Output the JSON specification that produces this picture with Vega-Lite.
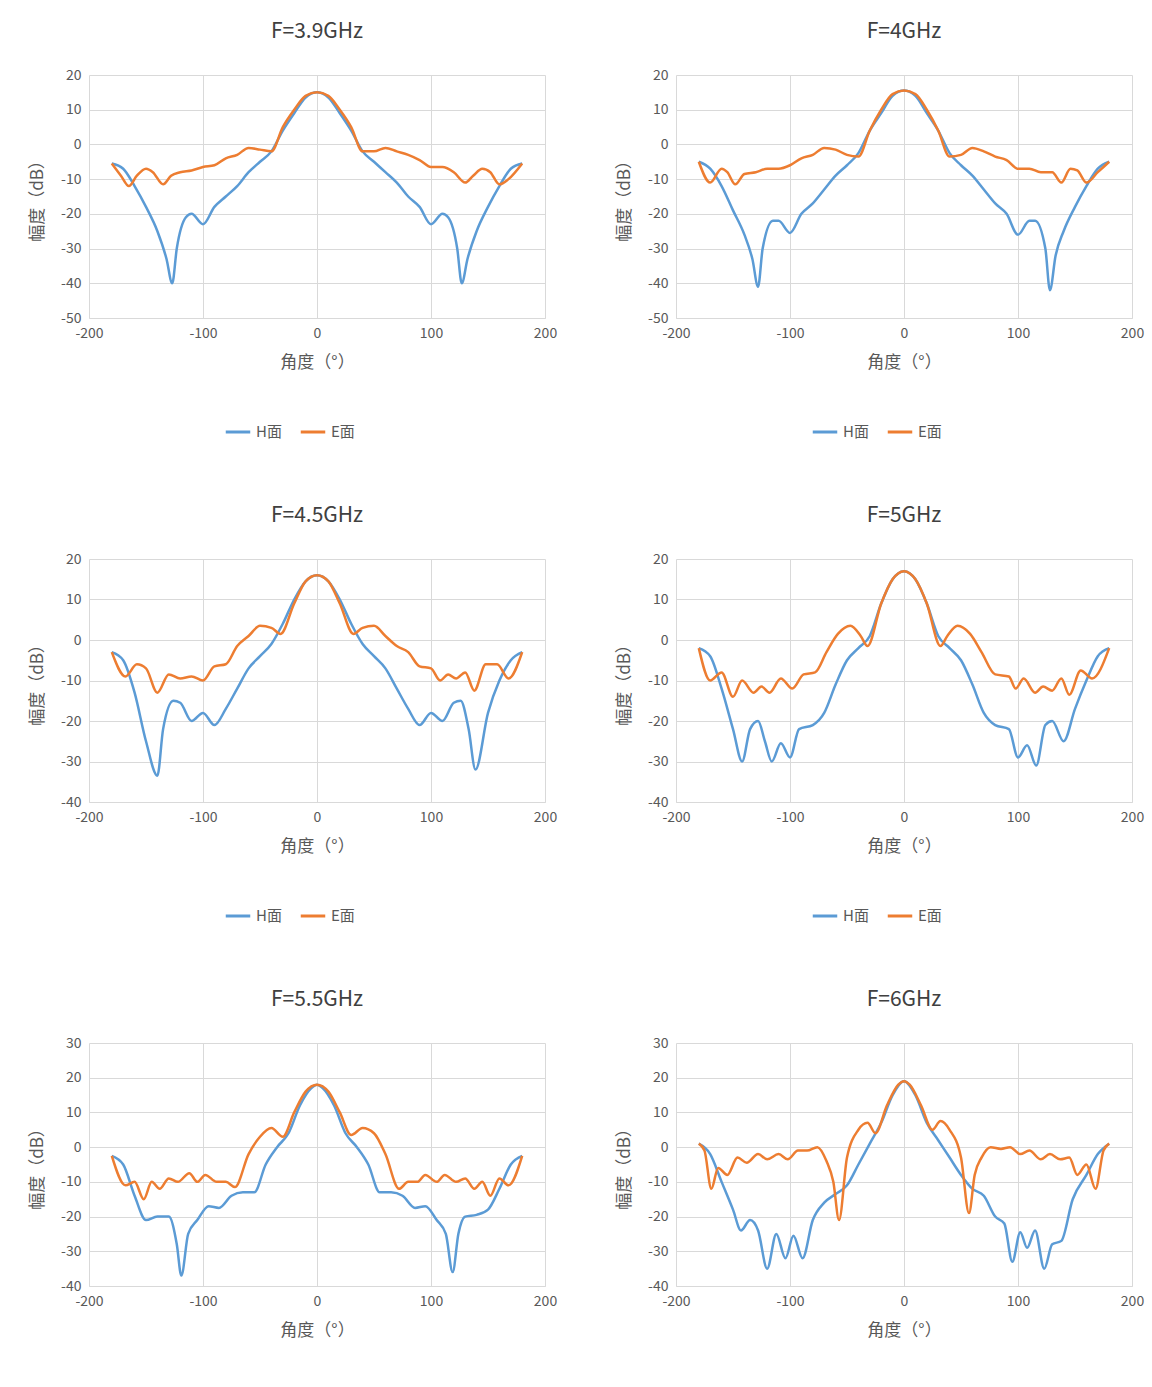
{
"$schema":"https://vega.github.io/schema/vega-lite/v6.json",
"background":"white",
"padding":{"left":28,"top":21,"right":10,"bottom":5},
"config":{"view":{"stroke":null},"font":"Noto Sans CJK SC",
"axis":{"gridColor":"#d9d9d9","domainColor":"#d9d9d9","tickColor":"#d9d9d9","ticks":false,"labelColor":"#595959","labelFontSize":14,"titleColor":"#595959","titleFontSize":17,"titleFontWeight":"normal","labelPadding":8,"labelFlush":false,"labelExpr":"replace(datum.label,'−','-')"},
"title":{"fontSize":21,"fontWeight":"normal","color":"#404040","offset":26},
"legend":{"orient":"none","legendX":135,"legendY":343,"direction":"horizontal","title":null,"labelFontSize":15,"labelColor":"#595959","symbolType":"stroke","symbolSize":600,"symbolStrokeWidth":3,"columnPadding":12}},
"data":{"values":[
{"f":"3.9","s":"H面","a":-180,"v":-5.5},{"f":"3.9","s":"H面","a":-170,"v":-7},{"f":"3.9","s":"H面","a":-160,"v":-12},{"f":"3.9","s":"H面","a":-150,"v":-18},{"f":"3.9","s":"H面","a":-140,"v":-25},{"f":"3.9","s":"H面","a":-132,"v":-33},{"f":"3.9","s":"H面","a":-127,"v":-40},{"f":"3.9","s":"H面","a":-123,"v":-30},{"f":"3.9","s":"H面","a":-115,"v":-21},{"f":"3.9","s":"H面","a":-110,"v":-20},{"f":"3.9","s":"H面","a":-100,"v":-23},{"f":"3.9","s":"H面","a":-90,"v":-18},{"f":"3.9","s":"H面","a":-80,"v":-15},{"f":"3.9","s":"H面","a":-70,"v":-12},{"f":"3.9","s":"H面","a":-60,"v":-8},{"f":"3.9","s":"H面","a":-50,"v":-5},{"f":"3.9","s":"H面","a":-40,"v":-2},{"f":"3.9","s":"H面","a":-30,"v":4},{"f":"3.9","s":"H面","a":-20,"v":9},{"f":"3.9","s":"H面","a":-10,"v":13.5},{"f":"3.9","s":"H面","a":0,"v":15},{"f":"3.9","s":"H面","a":10,"v":13.5},{"f":"3.9","s":"H面","a":20,"v":9},{"f":"3.9","s":"H面","a":30,"v":4},{"f":"3.9","s":"H面","a":40,"v":-2},{"f":"3.9","s":"H面","a":50,"v":-5},{"f":"3.9","s":"H面","a":60,"v":-8},{"f":"3.9","s":"H面","a":70,"v":-11},{"f":"3.9","s":"H面","a":80,"v":-15},{"f":"3.9","s":"H面","a":90,"v":-18},{"f":"3.9","s":"H面","a":100,"v":-23},{"f":"3.9","s":"H面","a":110,"v":-20},{"f":"3.9","s":"H面","a":115,"v":-21},{"f":"3.9","s":"H面","a":123,"v":-30},{"f":"3.9","s":"H面","a":127,"v":-40},{"f":"3.9","s":"H面","a":132,"v":-33},{"f":"3.9","s":"H面","a":140,"v":-25},{"f":"3.9","s":"H面","a":150,"v":-18},{"f":"3.9","s":"H面","a":160,"v":-12},{"f":"3.9","s":"H面","a":170,"v":-7},{"f":"3.9","s":"H面","a":180,"v":-5.5},
{"f":"3.9","s":"E面","a":-180,"v":-5.5},{"f":"3.9","s":"E面","a":-172,"v":-9},{"f":"3.9","s":"E面","a":-165,"v":-12},{"f":"3.9","s":"E面","a":-158,"v":-9},{"f":"3.9","s":"E面","a":-150,"v":-7},{"f":"3.9","s":"E面","a":-144,"v":-8},{"f":"3.9","s":"E面","a":-135,"v":-11.5},{"f":"3.9","s":"E面","a":-128,"v":-9},{"f":"3.9","s":"E面","a":-120,"v":-8},{"f":"3.9","s":"E面","a":-110,"v":-7.5},{"f":"3.9","s":"E面","a":-100,"v":-6.5},{"f":"3.9","s":"E面","a":-90,"v":-6},{"f":"3.9","s":"E面","a":-80,"v":-4},{"f":"3.9","s":"E面","a":-70,"v":-3},{"f":"3.9","s":"E面","a":-60,"v":-1},{"f":"3.9","s":"E面","a":-50,"v":-1.5},{"f":"3.9","s":"E面","a":-40,"v":-2},{"f":"3.9","s":"E面","a":-30,"v":5},{"f":"3.9","s":"E面","a":-20,"v":10},{"f":"3.9","s":"E面","a":-10,"v":14},{"f":"3.9","s":"E面","a":0,"v":15},{"f":"3.9","s":"E面","a":10,"v":14},{"f":"3.9","s":"E面","a":20,"v":10},{"f":"3.9","s":"E面","a":30,"v":5},{"f":"3.9","s":"E面","a":40,"v":-2},{"f":"3.9","s":"E面","a":50,"v":-2},{"f":"3.9","s":"E面","a":60,"v":-1},{"f":"3.9","s":"E面","a":70,"v":-2},{"f":"3.9","s":"E面","a":80,"v":-3},{"f":"3.9","s":"E面","a":90,"v":-4.5},{"f":"3.9","s":"E面","a":100,"v":-6.5},{"f":"3.9","s":"E面","a":110,"v":-6.5},{"f":"3.9","s":"E面","a":120,"v":-8},{"f":"3.9","s":"E面","a":130,"v":-11},{"f":"3.9","s":"E面","a":137,"v":-9},{"f":"3.9","s":"E面","a":145,"v":-7},{"f":"3.9","s":"E面","a":152,"v":-8},{"f":"3.9","s":"E面","a":160,"v":-11.5},{"f":"3.9","s":"E面","a":168,"v":-10},{"f":"3.9","s":"E面","a":180,"v":-5.5},

{"f":"4","s":"H面","a":-180,"v":-5},{"f":"4","s":"H面","a":-170,"v":-7},{"f":"4","s":"H面","a":-160,"v":-12},{"f":"4","s":"H面","a":-150,"v":-19},{"f":"4","s":"H面","a":-140,"v":-26},{"f":"4","s":"H面","a":-133,"v":-33},{"f":"4","s":"H面","a":-128,"v":-41},{"f":"4","s":"H面","a":-124,"v":-30},{"f":"4","s":"H面","a":-115,"v":-22},{"f":"4","s":"H面","a":-110,"v":-22},{"f":"4","s":"H面","a":-100,"v":-25.5},{"f":"4","s":"H面","a":-90,"v":-20},{"f":"4","s":"H面","a":-80,"v":-17},{"f":"4","s":"H面","a":-70,"v":-13},{"f":"4","s":"H面","a":-60,"v":-9},{"f":"4","s":"H面","a":-50,"v":-6},{"f":"4","s":"H面","a":-40,"v":-2.5},{"f":"4","s":"H面","a":-30,"v":4},{"f":"4","s":"H面","a":-20,"v":9},{"f":"4","s":"H面","a":-10,"v":14},{"f":"4","s":"H面","a":0,"v":15.5},{"f":"4","s":"H面","a":10,"v":14},{"f":"4","s":"H面","a":20,"v":9},{"f":"4","s":"H面","a":30,"v":4},{"f":"4","s":"H面","a":40,"v":-2.5},{"f":"4","s":"H面","a":50,"v":-6},{"f":"4","s":"H面","a":60,"v":-9},{"f":"4","s":"H面","a":70,"v":-13},{"f":"4","s":"H面","a":80,"v":-17},{"f":"4","s":"H面","a":90,"v":-20},{"f":"4","s":"H面","a":100,"v":-26},{"f":"4","s":"H面","a":110,"v":-22},{"f":"4","s":"H面","a":115,"v":-22},{"f":"4","s":"H面","a":124,"v":-30},{"f":"4","s":"H面","a":128,"v":-42},{"f":"4","s":"H面","a":133,"v":-32},{"f":"4","s":"H面","a":140,"v":-25},{"f":"4","s":"H面","a":150,"v":-18},{"f":"4","s":"H面","a":160,"v":-12},{"f":"4","s":"H面","a":170,"v":-7},{"f":"4","s":"H面","a":180,"v":-5},
{"f":"4","s":"E面","a":-180,"v":-5},{"f":"4","s":"E面","a":-170,"v":-11},{"f":"4","s":"E面","a":-160,"v":-7},{"f":"4","s":"E面","a":-155,"v":-8},{"f":"4","s":"E面","a":-148,"v":-11.5},{"f":"4","s":"E面","a":-140,"v":-8.5},{"f":"4","s":"E面","a":-130,"v":-8},{"f":"4","s":"E面","a":-120,"v":-7},{"f":"4","s":"E面","a":-110,"v":-7},{"f":"4","s":"E面","a":-100,"v":-6},{"f":"4","s":"E面","a":-90,"v":-4},{"f":"4","s":"E面","a":-80,"v":-3},{"f":"4","s":"E面","a":-70,"v":-1},{"f":"4","s":"E面","a":-60,"v":-1.5},{"f":"4","s":"E面","a":-50,"v":-3},{"f":"4","s":"E面","a":-40,"v":-3.5},{"f":"4","s":"E面","a":-30,"v":4},{"f":"4","s":"E面","a":-20,"v":10},{"f":"4","s":"E面","a":-10,"v":14.5},{"f":"4","s":"E面","a":0,"v":15.5},{"f":"4","s":"E面","a":10,"v":14.5},{"f":"4","s":"E面","a":20,"v":10},{"f":"4","s":"E面","a":30,"v":4},{"f":"4","s":"E面","a":40,"v":-3.5},{"f":"4","s":"E面","a":50,"v":-3},{"f":"4","s":"E面","a":60,"v":-1},{"f":"4","s":"E面","a":70,"v":-2},{"f":"4","s":"E面","a":80,"v":-3.5},{"f":"4","s":"E面","a":90,"v":-4.5},{"f":"4","s":"E面","a":100,"v":-7},{"f":"4","s":"E面","a":110,"v":-7},{"f":"4","s":"E面","a":120,"v":-8},{"f":"4","s":"E面","a":130,"v":-8},{"f":"4","s":"E面","a":138,"v":-11},{"f":"4","s":"E面","a":146,"v":-7},{"f":"4","s":"E面","a":152,"v":-7.5},{"f":"4","s":"E面","a":160,"v":-11},{"f":"4","s":"E面","a":170,"v":-8},{"f":"4","s":"E面","a":180,"v":-5},

{"f":"4.5","s":"H面","a":-180,"v":-3},{"f":"4.5","s":"H面","a":-170,"v":-5},{"f":"4.5","s":"H面","a":-160,"v":-13},{"f":"4.5","s":"H面","a":-150,"v":-25},{"f":"4.5","s":"H面","a":-140,"v":-33.5},{"f":"4.5","s":"H面","a":-135,"v":-22},{"f":"4.5","s":"H面","a":-126,"v":-15},{"f":"4.5","s":"H面","a":-120,"v":-15.5},{"f":"4.5","s":"H面","a":-110,"v":-20},{"f":"4.5","s":"H面","a":-100,"v":-18},{"f":"4.5","s":"H面","a":-90,"v":-21},{"f":"4.5","s":"H面","a":-80,"v":-17},{"f":"4.5","s":"H面","a":-70,"v":-12},{"f":"4.5","s":"H面","a":-60,"v":-7},{"f":"4.5","s":"H面","a":-50,"v":-4},{"f":"4.5","s":"H面","a":-40,"v":-1},{"f":"4.5","s":"H面","a":-30,"v":4},{"f":"4.5","s":"H面","a":-20,"v":10},{"f":"4.5","s":"H面","a":-10,"v":14.5},{"f":"4.5","s":"H面","a":0,"v":16},{"f":"4.5","s":"H面","a":10,"v":14.5},{"f":"4.5","s":"H面","a":20,"v":10},{"f":"4.5","s":"H面","a":30,"v":4},{"f":"4.5","s":"H面","a":40,"v":-1},{"f":"4.5","s":"H面","a":50,"v":-4},{"f":"4.5","s":"H面","a":60,"v":-7},{"f":"4.5","s":"H面","a":70,"v":-12},{"f":"4.5","s":"H面","a":80,"v":-17},{"f":"4.5","s":"H面","a":90,"v":-21},{"f":"4.5","s":"H面","a":100,"v":-18},{"f":"4.5","s":"H面","a":110,"v":-20},{"f":"4.5","s":"H面","a":120,"v":-15.5},{"f":"4.5","s":"H面","a":126,"v":-15},{"f":"4.5","s":"H面","a":133,"v":-22},{"f":"4.5","s":"H面","a":139,"v":-32},{"f":"4.5","s":"H面","a":150,"v":-18},{"f":"4.5","s":"H面","a":160,"v":-10},{"f":"4.5","s":"H面","a":170,"v":-5},{"f":"4.5","s":"H面","a":180,"v":-3},
{"f":"4.5","s":"E面","a":-180,"v":-3},{"f":"4.5","s":"E面","a":-168,"v":-9},{"f":"4.5","s":"E面","a":-158,"v":-6},{"f":"4.5","s":"E面","a":-150,"v":-7},{"f":"4.5","s":"E面","a":-140,"v":-13},{"f":"4.5","s":"E面","a":-130,"v":-8.5},{"f":"4.5","s":"E面","a":-120,"v":-9.5},{"f":"4.5","s":"E面","a":-110,"v":-9},{"f":"4.5","s":"E面","a":-100,"v":-10},{"f":"4.5","s":"E面","a":-90,"v":-6.5},{"f":"4.5","s":"E面","a":-80,"v":-6},{"f":"4.5","s":"E面","a":-70,"v":-1.5},{"f":"4.5","s":"E面","a":-60,"v":1},{"f":"4.5","s":"E面","a":-50,"v":3.5},{"f":"4.5","s":"E面","a":-40,"v":3},{"f":"4.5","s":"E面","a":-32,"v":1.5},{"f":"4.5","s":"E面","a":-20,"v":9},{"f":"4.5","s":"E面","a":-10,"v":14.5},{"f":"4.5","s":"E面","a":0,"v":16},{"f":"4.5","s":"E面","a":10,"v":14.5},{"f":"4.5","s":"E面","a":20,"v":9},{"f":"4.5","s":"E面","a":32,"v":1.5},{"f":"4.5","s":"E面","a":40,"v":3},{"f":"4.5","s":"E面","a":50,"v":3.5},{"f":"4.5","s":"E面","a":60,"v":1},{"f":"4.5","s":"E面","a":70,"v":-1.5},{"f":"4.5","s":"E面","a":80,"v":-3},{"f":"4.5","s":"E面","a":90,"v":-6.5},{"f":"4.5","s":"E面","a":100,"v":-7},{"f":"4.5","s":"E面","a":108,"v":-10},{"f":"4.5","s":"E面","a":115,"v":-8.5},{"f":"4.5","s":"E面","a":122,"v":-9.5},{"f":"4.5","s":"E面","a":130,"v":-8},{"f":"4.5","s":"E面","a":138,"v":-12.5},{"f":"4.5","s":"E面","a":148,"v":-6},{"f":"4.5","s":"E面","a":158,"v":-6},{"f":"4.5","s":"E面","a":168,"v":-9.5},{"f":"4.5","s":"E面","a":180,"v":-3},

{"f":"5","s":"H面","a":-180,"v":-2},{"f":"5","s":"H面","a":-170,"v":-4},{"f":"5","s":"H面","a":-160,"v":-12},{"f":"5","s":"H面","a":-150,"v":-22},{"f":"5","s":"H面","a":-142,"v":-30},{"f":"5","s":"H面","a":-135,"v":-22},{"f":"5","s":"H面","a":-128,"v":-20},{"f":"5","s":"H面","a":-122,"v":-25},{"f":"5","s":"H面","a":-116,"v":-30},{"f":"5","s":"H面","a":-108,"v":-25.5},{"f":"5","s":"H面","a":-100,"v":-29},{"f":"5","s":"H面","a":-92,"v":-22},{"f":"5","s":"H面","a":-80,"v":-21},{"f":"5","s":"H面","a":-70,"v":-18},{"f":"5","s":"H面","a":-60,"v":-11},{"f":"5","s":"H面","a":-50,"v":-5},{"f":"5","s":"H面","a":-40,"v":-2},{"f":"5","s":"H面","a":-30,"v":1},{"f":"5","s":"H面","a":-20,"v":9},{"f":"5","s":"H面","a":-10,"v":15},{"f":"5","s":"H面","a":0,"v":17},{"f":"5","s":"H面","a":10,"v":15},{"f":"5","s":"H面","a":20,"v":9},{"f":"5","s":"H面","a":30,"v":1},{"f":"5","s":"H面","a":40,"v":-2},{"f":"5","s":"H面","a":50,"v":-5},{"f":"5","s":"H面","a":60,"v":-11},{"f":"5","s":"H面","a":70,"v":-18},{"f":"5","s":"H面","a":80,"v":-21},{"f":"5","s":"H面","a":92,"v":-22},{"f":"5","s":"H面","a":100,"v":-29},{"f":"5","s":"H面","a":108,"v":-26},{"f":"5","s":"H面","a":116,"v":-31},{"f":"5","s":"H面","a":124,"v":-21},{"f":"5","s":"H面","a":130,"v":-20},{"f":"5","s":"H面","a":140,"v":-25},{"f":"5","s":"H面","a":150,"v":-17},{"f":"5","s":"H面","a":160,"v":-10},{"f":"5","s":"H面","a":170,"v":-4},{"f":"5","s":"H面","a":180,"v":-2},
{"f":"5","s":"E面","a":-180,"v":-2},{"f":"5","s":"E面","a":-170,"v":-10},{"f":"5","s":"E面","a":-160,"v":-8},{"f":"5","s":"E面","a":-150,"v":-14},{"f":"5","s":"E面","a":-142,"v":-10},{"f":"5","s":"E面","a":-132,"v":-13},{"f":"5","s":"E面","a":-125,"v":-11.5},{"f":"5","s":"E面","a":-118,"v":-13},{"f":"5","s":"E面","a":-108,"v":-9.5},{"f":"5","s":"E面","a":-98,"v":-12},{"f":"5","s":"E面","a":-88,"v":-8.5},{"f":"5","s":"E面","a":-78,"v":-8},{"f":"5","s":"E面","a":-68,"v":-3},{"f":"5","s":"E面","a":-58,"v":1.5},{"f":"5","s":"E面","a":-47,"v":3.5},{"f":"5","s":"E面","a":-38,"v":1},{"f":"5","s":"E面","a":-32,"v":-1.5},{"f":"5","s":"E面","a":-20,"v":9},{"f":"5","s":"E面","a":-10,"v":15},{"f":"5","s":"E面","a":0,"v":17},{"f":"5","s":"E面","a":10,"v":15},{"f":"5","s":"E面","a":20,"v":9},{"f":"5","s":"E面","a":32,"v":-1.5},{"f":"5","s":"E面","a":38,"v":1},{"f":"5","s":"E面","a":47,"v":3.5},{"f":"5","s":"E面","a":58,"v":1.5},{"f":"5","s":"E面","a":68,"v":-3},{"f":"5","s":"E面","a":80,"v":-8.5},{"f":"5","s":"E面","a":92,"v":-9},{"f":"5","s":"E面","a":98,"v":-12},{"f":"5","s":"E面","a":105,"v":-9.5},{"f":"5","s":"E面","a":115,"v":-13},{"f":"5","s":"E面","a":122,"v":-11.5},{"f":"5","s":"E面","a":130,"v":-12.5},{"f":"5","s":"E面","a":138,"v":-9.5},{"f":"5","s":"E面","a":145,"v":-13.5},{"f":"5","s":"E面","a":155,"v":-7.5},{"f":"5","s":"E面","a":165,"v":-9.5},{"f":"5","s":"E面","a":180,"v":-2},

{"f":"5.5","s":"H面","a":-180,"v":-2.5},{"f":"5.5","s":"H面","a":-170,"v":-5},{"f":"5.5","s":"H面","a":-160,"v":-14},{"f":"5.5","s":"H面","a":-150,"v":-21},{"f":"5.5","s":"H面","a":-140,"v":-20},{"f":"5.5","s":"H面","a":-130,"v":-20},{"f":"5.5","s":"H面","a":-123,"v":-28},{"f":"5.5","s":"H面","a":-119,"v":-37},{"f":"5.5","s":"H面","a":-113,"v":-25},{"f":"5.5","s":"H面","a":-105,"v":-21},{"f":"5.5","s":"H面","a":-95,"v":-17},{"f":"5.5","s":"H面","a":-86,"v":-17.5},{"f":"5.5","s":"H面","a":-75,"v":-14},{"f":"5.5","s":"H面","a":-65,"v":-13},{"f":"5.5","s":"H面","a":-55,"v":-13},{"f":"5.5","s":"H面","a":-45,"v":-5},{"f":"5.5","s":"H面","a":-35,"v":0},{"f":"5.5","s":"H面","a":-25,"v":4},{"f":"5.5","s":"H面","a":-15,"v":12},{"f":"5.5","s":"H面","a":-5,"v":17},{"f":"5.5","s":"H面","a":0,"v":18},{"f":"5.5","s":"H面","a":5,"v":17},{"f":"5.5","s":"H面","a":15,"v":12},{"f":"5.5","s":"H面","a":25,"v":4},{"f":"5.5","s":"H面","a":35,"v":0},{"f":"5.5","s":"H面","a":45,"v":-5},{"f":"5.5","s":"H面","a":55,"v":-13},{"f":"5.5","s":"H面","a":65,"v":-13},{"f":"5.5","s":"H面","a":75,"v":-14},{"f":"5.5","s":"H面","a":86,"v":-17.5},{"f":"5.5","s":"H面","a":95,"v":-17},{"f":"5.5","s":"H面","a":105,"v":-21},{"f":"5.5","s":"H面","a":113,"v":-25},{"f":"5.5","s":"H面","a":119,"v":-36},{"f":"5.5","s":"H面","a":124,"v":-25},{"f":"5.5","s":"H面","a":130,"v":-20},{"f":"5.5","s":"H面","a":140,"v":-19.5},{"f":"5.5","s":"H面","a":150,"v":-18},{"f":"5.5","s":"H面","a":160,"v":-12},{"f":"5.5","s":"H面","a":170,"v":-5},{"f":"5.5","s":"H面","a":180,"v":-2.5},
{"f":"5.5","s":"E面","a":-180,"v":-2.5},{"f":"5.5","s":"E面","a":-168,"v":-11},{"f":"5.5","s":"E面","a":-160,"v":-10},{"f":"5.5","s":"E面","a":-152,"v":-15},{"f":"5.5","s":"E面","a":-145,"v":-10},{"f":"5.5","s":"E面","a":-138,"v":-12},{"f":"5.5","s":"E面","a":-130,"v":-9},{"f":"5.5","s":"E面","a":-122,"v":-10},{"f":"5.5","s":"E面","a":-112,"v":-7.5},{"f":"5.5","s":"E面","a":-105,"v":-10},{"f":"5.5","s":"E面","a":-98,"v":-8},{"f":"5.5","s":"E面","a":-88,"v":-10},{"f":"5.5","s":"E面","a":-80,"v":-10},{"f":"5.5","s":"E面","a":-72,"v":-11.5},{"f":"5.5","s":"E面","a":-60,"v":-2},{"f":"5.5","s":"E面","a":-50,"v":3},{"f":"5.5","s":"E面","a":-40,"v":5.5},{"f":"5.5","s":"E面","a":-30,"v":3},{"f":"5.5","s":"E面","a":-20,"v":10},{"f":"5.5","s":"E面","a":-10,"v":16},{"f":"5.5","s":"E面","a":0,"v":18},{"f":"5.5","s":"E面","a":10,"v":16},{"f":"5.5","s":"E面","a":20,"v":10},{"f":"5.5","s":"E面","a":30,"v":3.5},{"f":"5.5","s":"E面","a":40,"v":5.5},{"f":"5.5","s":"E面","a":50,"v":4},{"f":"5.5","s":"E面","a":60,"v":-2},{"f":"5.5","s":"E面","a":72,"v":-12},{"f":"5.5","s":"E面","a":80,"v":-10},{"f":"5.5","s":"E面","a":88,"v":-10},{"f":"5.5","s":"E面","a":95,"v":-8},{"f":"5.5","s":"E面","a":105,"v":-10},{"f":"5.5","s":"E面","a":112,"v":-8},{"f":"5.5","s":"E面","a":122,"v":-10},{"f":"5.5","s":"E面","a":130,"v":-9},{"f":"5.5","s":"E面","a":138,"v":-12},{"f":"5.5","s":"E面","a":145,"v":-10},{"f":"5.5","s":"E面","a":152,"v":-14},{"f":"5.5","s":"E面","a":160,"v":-9},{"f":"5.5","s":"E面","a":168,"v":-11},{"f":"5.5","s":"E面","a":180,"v":-2.5},

{"f":"6","s":"H面","a":-180,"v":1},{"f":"6","s":"H面","a":-170,"v":-2},{"f":"6","s":"H面","a":-160,"v":-10},{"f":"6","s":"H面","a":-150,"v":-18},{"f":"6","s":"H面","a":-143,"v":-24},{"f":"6","s":"H面","a":-135,"v":-21},{"f":"6","s":"H面","a":-128,"v":-24},{"f":"6","s":"H面","a":-120,"v":-35},{"f":"6","s":"H面","a":-112,"v":-25},{"f":"6","s":"H面","a":-104,"v":-32},{"f":"6","s":"H面","a":-97,"v":-25.5},{"f":"6","s":"H面","a":-89,"v":-32},{"f":"6","s":"H面","a":-80,"v":-21},{"f":"6","s":"H面","a":-70,"v":-16},{"f":"6","s":"H面","a":-60,"v":-13.5},{"f":"6","s":"H面","a":-50,"v":-11},{"f":"6","s":"H面","a":-40,"v":-5},{"f":"6","s":"H面","a":-30,"v":1},{"f":"6","s":"H面","a":-20,"v":7},{"f":"6","s":"H面","a":-10,"v":15},{"f":"6","s":"H面","a":0,"v":19},{"f":"6","s":"H面","a":10,"v":15},{"f":"6","s":"H面","a":20,"v":7},{"f":"6","s":"H面","a":30,"v":2},{"f":"6","s":"H面","a":40,"v":-3},{"f":"6","s":"H面","a":50,"v":-8},{"f":"6","s":"H面","a":60,"v":-12},{"f":"6","s":"H面","a":70,"v":-14},{"f":"6","s":"H面","a":80,"v":-20},{"f":"6","s":"H面","a":88,"v":-22},{"f":"6","s":"H面","a":95,"v":-33},{"f":"6","s":"H面","a":102,"v":-24.5},{"f":"6","s":"H面","a":108,"v":-29},{"f":"6","s":"H面","a":115,"v":-24},{"f":"6","s":"H面","a":123,"v":-35},{"f":"6","s":"H面","a":130,"v":-28},{"f":"6","s":"H面","a":138,"v":-27},{"f":"6","s":"H面","a":148,"v":-15},{"f":"6","s":"H面","a":160,"v":-8},{"f":"6","s":"H面","a":170,"v":-2},{"f":"6","s":"H面","a":180,"v":1},
{"f":"6","s":"E面","a":-180,"v":1},{"f":"6","s":"E面","a":-175,"v":-1},{"f":"6","s":"E面","a":-169,"v":-12},{"f":"6","s":"E面","a":-163,"v":-6},{"f":"6","s":"E面","a":-155,"v":-8},{"f":"6","s":"E面","a":-146,"v":-3},{"f":"6","s":"E面","a":-138,"v":-4.5},{"f":"6","s":"E面","a":-128,"v":-2},{"f":"6","s":"E面","a":-120,"v":-3.5},{"f":"6","s":"E面","a":-110,"v":-2},{"f":"6","s":"E面","a":-102,"v":-3.5},{"f":"6","s":"E面","a":-93,"v":-1},{"f":"6","s":"E面","a":-85,"v":-1},{"f":"6","s":"E面","a":-76,"v":0},{"f":"6","s":"E面","a":-68,"v":-4},{"f":"6","s":"E面","a":-62,"v":-10},{"f":"6","s":"E面","a":-57,"v":-21},{"f":"6","s":"E面","a":-50,"v":-3},{"f":"6","s":"E面","a":-40,"v":5},{"f":"6","s":"E面","a":-32,"v":7},{"f":"6","s":"E面","a":-25,"v":4},{"f":"6","s":"E面","a":-15,"v":12},{"f":"6","s":"E面","a":-5,"v":18},{"f":"6","s":"E面","a":0,"v":19},{"f":"6","s":"E面","a":5,"v":18},{"f":"6","s":"E面","a":15,"v":12},{"f":"6","s":"E面","a":25,"v":5},{"f":"6","s":"E面","a":32,"v":7.5},{"f":"6","s":"E面","a":40,"v":5},{"f":"6","s":"E面","a":50,"v":-3},{"f":"6","s":"E面","a":57,"v":-19},{"f":"6","s":"E面","a":62,"v":-8},{"f":"6","s":"E面","a":68,"v":-3},{"f":"6","s":"E面","a":76,"v":0},{"f":"6","s":"E面","a":85,"v":-0.5},{"f":"6","s":"E面","a":93,"v":0},{"f":"6","s":"E面","a":102,"v":-2},{"f":"6","s":"E面","a":110,"v":-1},{"f":"6","s":"E面","a":120,"v":-3.5},{"f":"6","s":"E面","a":128,"v":-2},{"f":"6","s":"E面","a":137,"v":-3.5},{"f":"6","s":"E面","a":145,"v":-3},{"f":"6","s":"E面","a":152,"v":-8},{"f":"6","s":"E面","a":160,"v":-5},{"f":"6","s":"E面","a":168,"v":-12},{"f":"6","s":"E面","a":175,"v":-1},{"f":"6","s":"E面","a":180,"v":1}
]},
"vconcat":[
{"hconcat":[
{"title":"F=3.9GHz","width":456,"height":243,"transform":[{"filter":"datum.f=='3.9'"}],"mark":{"type":"line","interpolate":"monotone","strokeWidth":2.5},
"encoding":{"x":{"field":"a","type":"quantitative","scale":{"domain":[-200,200]},"axis":{"values":[-200,-100,0,100,200],"title":"角度（°）","titlePadding":14}},
"y":{"field":"v","type":"quantitative","scale":{"domain":[-50,20]},"axis":{"values":[-50,-40,-30,-20,-10,0,10,20],"title":"幅度（dB）","titlePadding":14,"domain":false}},
"color":{"field":"s","type":"nominal","scale":{"domain":["H面","E面"],"range":["#5B9BD5","#ED7D31"]}}}},
{"title":"F=4GHz","width":456,"height":243,"transform":[{"filter":"datum.f=='4'"}],"mark":{"type":"line","interpolate":"monotone","strokeWidth":2.5},
"encoding":{"x":{"field":"a","type":"quantitative","scale":{"domain":[-200,200]},"axis":{"values":[-200,-100,0,100,200],"title":"角度（°）","titlePadding":14}},
"y":{"field":"v","type":"quantitative","scale":{"domain":[-50,20]},"axis":{"values":[-50,-40,-30,-20,-10,0,10,20],"title":"幅度（dB）","titlePadding":14,"domain":false}},
"color":{"field":"s","type":"nominal","scale":{"domain":["H面","E面"],"range":["#5B9BD5","#ED7D31"]}}}}
],"spacing":58,"resolve":{"scale":{"y":"independent","x":"independent"},"legend":{"color":"independent"}}},
{"hconcat":[
{"title":"F=4.5GHz","width":456,"height":243,"transform":[{"filter":"datum.f=='4.5'"}],"mark":{"type":"line","interpolate":"monotone","strokeWidth":2.5},
"encoding":{"x":{"field":"a","type":"quantitative","scale":{"domain":[-200,200]},"axis":{"values":[-200,-100,0,100,200],"title":"角度（°）","titlePadding":14}},
"y":{"field":"v","type":"quantitative","scale":{"domain":[-40,20]},"axis":{"values":[-40,-30,-20,-10,0,10,20],"title":"幅度（dB）","titlePadding":14,"domain":false}},
"color":{"field":"s","type":"nominal","scale":{"domain":["H面","E面"],"range":["#5B9BD5","#ED7D31"]}}}},
{"title":"F=5GHz","width":456,"height":243,"transform":[{"filter":"datum.f=='5'"}],"mark":{"type":"line","interpolate":"monotone","strokeWidth":2.5},
"encoding":{"x":{"field":"a","type":"quantitative","scale":{"domain":[-200,200]},"axis":{"values":[-200,-100,0,100,200],"title":"角度（°）","titlePadding":14}},
"y":{"field":"v","type":"quantitative","scale":{"domain":[-40,20]},"axis":{"values":[-40,-30,-20,-10,0,10,20],"title":"幅度（dB）","titlePadding":14,"domain":false}},
"color":{"field":"s","type":"nominal","scale":{"domain":["H面","E面"],"range":["#5B9BD5","#ED7D31"]}}}}
],"spacing":58,"resolve":{"scale":{"y":"independent","x":"independent"},"legend":{"color":"independent"}}},
{"hconcat":[
{"title":"F=5.5GHz","width":456,"height":243,"transform":[{"filter":"datum.f=='5.5'"}],"mark":{"type":"line","interpolate":"monotone","strokeWidth":2.5},
"encoding":{"x":{"field":"a","type":"quantitative","scale":{"domain":[-200,200]},"axis":{"values":[-200,-100,0,100,200],"title":"角度（°）","titlePadding":14}},
"y":{"field":"v","type":"quantitative","scale":{"domain":[-40,30]},"axis":{"values":[-40,-30,-20,-10,0,10,20,30],"title":"幅度（dB）","titlePadding":14,"domain":false}},
"color":{"field":"s","type":"nominal","scale":{"domain":["H面","E面"],"range":["#5B9BD5","#ED7D31"]}}}},
{"title":"F=6GHz","width":456,"height":243,"transform":[{"filter":"datum.f=='6'"}],"mark":{"type":"line","interpolate":"monotone","strokeWidth":2.5},
"encoding":{"x":{"field":"a","type":"quantitative","scale":{"domain":[-200,200]},"axis":{"values":[-200,-100,0,100,200],"title":"角度（°）","titlePadding":14}},
"y":{"field":"v","type":"quantitative","scale":{"domain":[-40,30]},"axis":{"values":[-40,-30,-20,-10,0,10,20,30],"title":"幅度（dB）","titlePadding":14,"domain":false}},
"color":{"field":"s","type":"nominal","scale":{"domain":["H面","E面"],"range":["#5B9BD5","#ED7D31"]}}}}
],"spacing":58,"resolve":{"scale":{"y":"independent","x":"independent"},"legend":{"color":"independent"}}}
],"spacing":65,"resolve":{"scale":{"y":"independent","x":"independent"},"legend":{"color":"independent"}}
}
